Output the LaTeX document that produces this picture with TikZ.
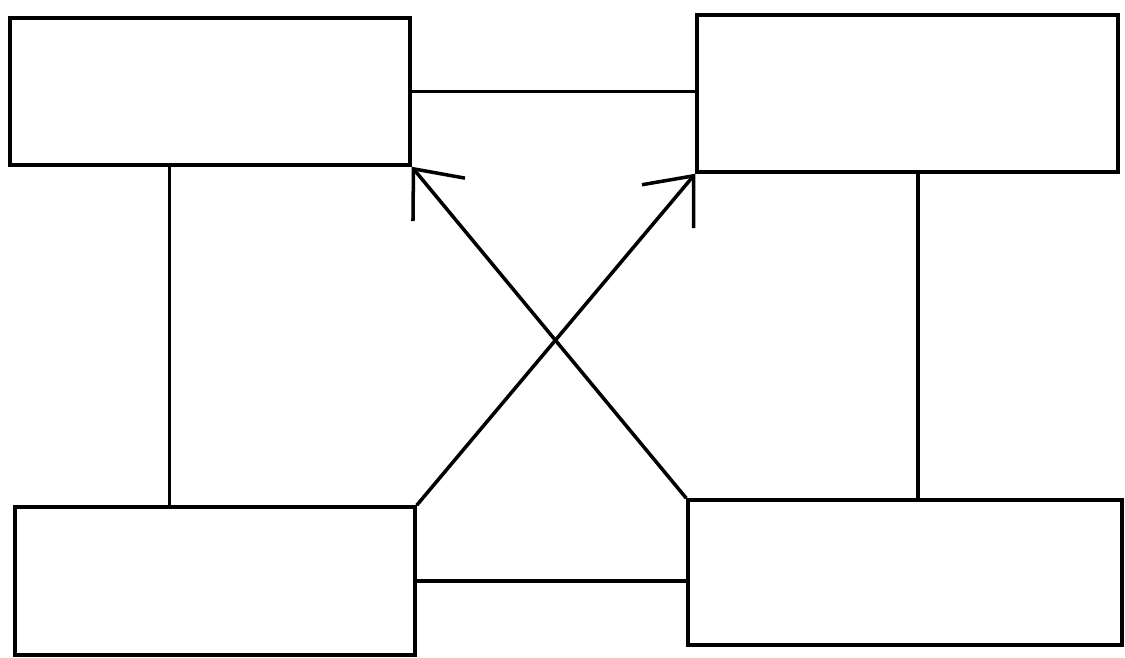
\documentclass[tikz,border=0pt]{standalone}
\usepackage{tikz}
\usetikzlibrary{arrows.meta,positioning,calc}

\begin{document}
\begin{tikzpicture}[
  x=0.02cm, y=-0.02cm,
  box/.style={draw, line width=2pt, inner sep=0pt},
  link/.style={line width=2pt},
  arr/.style={-{Straight Barb[length=8mm, width=13.5mm, line width=2pt]}, line width=2pt},
]
\useasboundingbox (0,0) rectangle (1125,657);
\node[box, minimum width=8cm, minimum height=2.94cm] (tl) at (210,91.5) {};
\node[box, minimum width=8.42cm, minimum height=3.14cm] (tr) at (907.5,93.5) {};
\node[box, minimum width=8cm, minimum height=2.96cm] (bl) at (215,581) {};
\node[box, minimum width=8.68cm, minimum height=2.9cm] (br) at (905,572.5) {};
\coordinate (lv) at ($(tl.south west)!0.4!(tl.south east)$);
\coordinate (rv) at ($(tr.south west)!0.525!(tr.south east)$);
\draw[link] (tl.east) -- (tl.east -| tr.west);
\draw[link] (bl.east) -- (bl.east -| br.west);
\draw[link] (lv) -- (lv |- bl.north);
\draw[link] (rv) -- (rv |- br.north);
\draw[arr] (br.north west) -- (tl.south east);
\draw[arr] (bl.north east) -- (tr.south west);
\end{tikzpicture}
\end{document}
